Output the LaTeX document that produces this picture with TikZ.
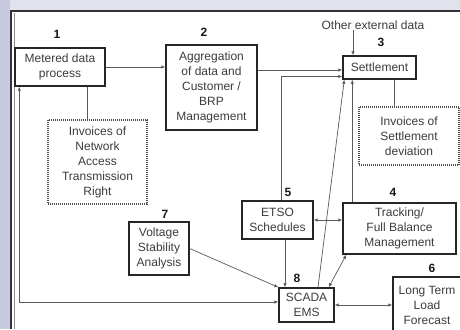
\documentclass[tikz,border=0pt]{standalone}
\usepackage{fontspec}
\setmainfont{Liberation Sans}
\usetikzlibrary{positioning,calc,arrows.meta}
\definecolor{lavtop}{HTML}{E1E3EC}
\definecolor{lavleft}{HTML}{C8CBDF}
\definecolor{inkgray}{HTML}{3C3C3C}
\definecolor{wiregray}{HTML}{5A5A5A}

\begin{document}
\begin{tikzpicture}[x=1pt,y=-1pt,>={Latex[length=4pt,width=3.5pt]},
	box/.style={draw=black!85,line width=1.4pt,fill=white,text=inkgray,align=center,inner sep=1pt,font=\fontsize{12}{15}\selectfont},
	note/.style={draw=black!70,line width=1.1pt,dash pattern=on 1pt off 1pt,fill=white,text=inkgray,align=center,inner sep=1pt,font=\fontsize{12}{15}\selectfont},
	num/.style={font=\bfseries\fontsize{12}{14}\selectfont,text=black!90},
	plain/.style={text=inkgray,font=\fontsize{12}{14}\selectfont},
	wire/.style={draw=wiregray,line width=0.7pt}]
	\useasboundingbox (0,0) rectangle (460,329);
	% frame
	\fill[lavtop] (0,0) rectangle (460,329);
	\fill[lavleft] (0,0) rectangle (10,329);
	\fill[white] (12,12) rectangle (460,329);
	\draw[black!80,line width=2.2pt] (11,329) -- (11,11) -- (460,11);
	\draw[black!45,line width=0.8pt] (14.5,329) -- (14.5,13);

	% boxes
	\node[box,minimum width=90,minimum height=38] (meter) at (60,67) {Metered data\\process};
	\node[box,minimum width=91,minimum height=85] (aggr) at (211.5,87.5) {Aggregation\\of data and\\Customer /\\BRP\\Management};
	\node[box,minimum width=73,minimum height=23] (settle) at (379.5,67.5) {Settlement};
	\node[note,minimum width=100,minimum height=58] (invsettle) at (409,136) {Invoices of\\Settlement\\deviation};
	\node[note,minimum width=99,minimum height=84] (invnet) at (97.5,162) {Invoices of\\Network\\Access\\Transmission\\Right};
	\node[box,minimum width=71,minimum height=38] (etso) at (277.5,220) {ETSO\\Schedules};
	\node[box,minimum width=113,minimum height=51] (track) at (399.5,228.5) {Tracking/\\Full Balance\\Management};
	\node[box,minimum width=55,minimum height=34] (scada) at (306.5,305) {SCADA\\EMS};
	\node[box,minimum width=68,minimum height=56] (ltlf) at (427,305) {Long Term\\Load\\Forecast};
	\node[box,minimum width=60,minimum height=53] (volt) at (159,248.5) {Voltage\\Stability\\Analysis};
	\node[plain] (ext) at (373,25) {Other external data};

	% numbers
	\node[num] (n1) at (57,34) {1};
	\node[num] (n2) at (204,32) {2};
	\node[num] (n3) at (381,42) {3};
	\node[num] (n4) at (393,192) {4};
	\node[num] (n5) at (288,192) {5};
	\node[num] (n6) at (432,268) {6};
	\node[num] (n7) at (165,214) {7};
	\node[num] (n8) at (297,278) {8};

	% connectors
	\coordinate (s1) at ($(settle.west)+(0,2.5)$);
	\coordinate (s2) at ($(settle.west)+(0,9)$);
	\draw[wire,->] (meter.east) -- (meter.east -| aggr.west);
	\draw[wire,->] (s1 -| aggr.east) -- (s1);
	\draw[wire,->] ([xshift=3.5]etso.north) |- (s2);
	\draw[wire,->] ([xshift=-20,yshift=3]ext.south) -- ([xshift=-20]ext.south |- settle.north);
	\draw[wire,->] ([xshift=10]track.north west) -- ([xshift=10]settle.south west);
	\draw[wire,->] ([xshift=11.5]scada.north) -- ([xshift=2]settle.south west);
	\draw[wire] ([xshift=27]meter.south) -- ([xshift=27]meter.south |- invnet.north);
	\draw[wire] ([xshift=14.5]settle.south) -- ([xshift=14.5]settle.south |- invsettle.north);
	\draw[wire,<->] (etso.east) -- (etso.east -| track.west);
	\draw[wire,->] ([xshift=7.5]etso.south) -- ([xshift=7.5]etso.south |- scada.north);
	\draw[wire,<->] ([xshift=4]track.south west) -- ([xshift=-6]scada.north east);
	\draw[wire,->] (volt.east) -- (scada.north west);
	\draw[wire,<->] (scada.east) -- (scada.east -| ltlf.west);
	\draw[wire,<->] ($(scada.west)+(0,-3)$) -| ([xshift=5]meter.south west);
\end{tikzpicture}
\end{document}
